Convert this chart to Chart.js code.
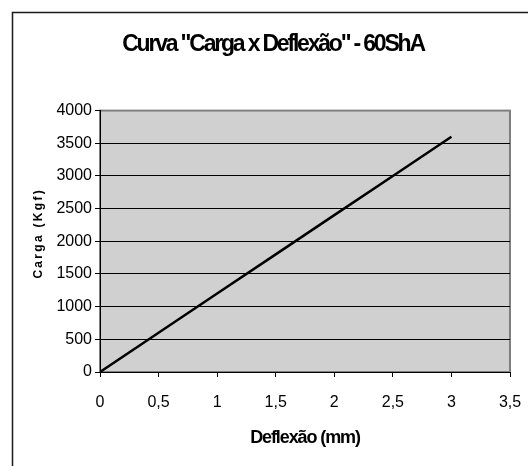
<!DOCTYPE html>
<html>
<head>
<meta charset="utf-8">
<script src="https://cdn.jsdelivr.net/npm/chart.js@4/dist/chart.umd.min.js"></script>
<style>
  html, body { margin: 0; padding: 0; background: #fff; }
  #wrap { position: relative; width: 528px; height: 466px; }
</style>
</head>
<body>
<div id="wrap"><canvas id="c" width="528" height="466"></canvas></div>
<script>
// ---- data ----
const deflexaoMm = [0, 0.5, 1, 1.5, 2, 2.5, 3];
const cargaKgf   = [0, 600, 1200, 1800, 2400, 3000, 3600];
const xTickValues = [0, 0.5, 1, 1.5, 2, 2.5, 3, 3.5];
const yTickValues = [0, 500, 1000, 1500, 2000, 2500, 3000, 3500, 4000];
const chartTitle = 'Curva "Carga x Deflexão" - 60ShA';
const xTitle = 'Deflexão (mm)';
const yTitle = 'Carga (Kgf)';

const points = deflexaoMm.map((x, i) => ({ x: x, y: cargaKgf[i] }));

function wrapSpacing(obj, fn, sp, dx, dy) {
  if (!obj || obj['_sp_' + fn]) return;
  const orig = obj[fn];
  obj[fn] = function (...args) {
    const c = this.ctx || this.chart.ctx;
    c.save();
    c.letterSpacing = sp;
    c.translate(dx || 0, dy || 0);
    const r = orig.apply(this, args);
    c.restore();
    return r;
  };
  obj['_sp_' + fn] = true;
}

const decorPlugin = {
  id: 'decor',
  afterLayout(chart) {
    wrapSpacing(chart.titleBlock, 'draw', '-2.2px', 18, 0);
    wrapSpacing(chart.scales.x, 'drawTitle', '-1.1px', 0, 0);
    wrapSpacing(chart.scales.y, 'drawTitle', '2.3px', 0, -8);
  },
  beforeDraw(chart) {
    const ctx = chart.ctx;
    const a = chart.chartArea;
    ctx.save();
    ctx.fillStyle = '#ffffff';
    ctx.fillRect(0, 0, chart.width, chart.height);
    ctx.strokeStyle = '#1a1a1a';
    ctx.lineWidth = 1.5;
    ctx.strokeRect(12.5, 12.5, chart.width + 20, chart.height + 20);
    ctx.fillStyle = '#d0d0d0';
    ctx.fillRect(a.left, a.top, a.right - a.left, a.bottom - a.top);
    ctx.strokeStyle = '#808080';
    ctx.lineWidth = 2;
    ctx.strokeRect(a.left, a.top, a.right - a.left, a.bottom - a.top);
    ctx.restore();
  }
};

const fam = "'Liberation Sans', Arial, sans-serif";

new Chart(document.getElementById('c'), {
  type: 'line',
  data: {
    datasets: [{
      data: points,
      borderColor: '#000000',
      borderWidth: 2.5,
      pointRadius: 0,
      tension: 0,
      fill: false
    }]
  },
  options: {
    responsive: false,
    animation: false,
    devicePixelRatio: 1,
    layout: { padding: { left: 0, right: 18, top: 0, bottom: 0 } },
    plugins: {
      legend: { display: false },
      tooltip: { enabled: false },
      title: {
        display: true,
        text: chartTitle,
        color: '#000',
        font: { family: fam, size: 23, weight: 'bold' },
        padding: { top: 31, bottom: 52 }
      }
    },
    scales: {
      x: {
        type: 'linear',
        min: 0,
        max: 3.5,
        afterBuildTicks(scale) { scale.ticks = xTickValues.map(v => ({ value: v })); },
        afterFit(scale) { scale.height = 94; scale.paddingLeft = 0; scale.paddingRight = 0; },
        ticks: {
          color: '#000',
          font: { family: fam, size: 16 },
          padding: 16,
          maxRotation: 0,
          autoSkip: false,
          callback: v => String(v).replace('.', ',')
        },
        grid: { drawOnChartArea: false, drawTicks: true, tickLength: 5, tickColor: '#000' },
        border: { display: true, color: '#000', width: 1 },
        title: {
          display: true,
          text: xTitle,
          color: '#000',
          font: { family: fam, size: 18, weight: 'bold' },
          padding: { top: 0, bottom: 17 }
        }
      },
      y: {
        type: 'linear',
        min: 0,
        max: 4000,
        afterBuildTicks(scale) { scale.ticks = yTickValues.map(v => ({ value: v })); },
        afterFit(scale) { scale.width = 100; scale.paddingTop = 0; scale.paddingBottom = 0; },
        ticks: {
          color: '#000',
          font: { family: fam, size: 16 },
          padding: 3,
          autoSkip: false,
          callback: v => String(v)
        },
        grid: {
          color: ctx => (ctx.tick && ctx.tick.value === 4000) ? '#808080' : '#000',
          lineWidth: 1,
          drawTicks: true,
          tickLength: 5,
          tickColor: '#000'
        },
        border: { display: true, color: '#000', width: 1 },
        title: {
          display: true,
          text: yTitle,
          color: '#000',
          font: { family: fam, size: 12, weight: 'bold' },
          padding: { top: 31, bottom: 0 }
        }
      }
    }
  },
  plugins: [decorPlugin]
});
</script>
</body>
</html>
